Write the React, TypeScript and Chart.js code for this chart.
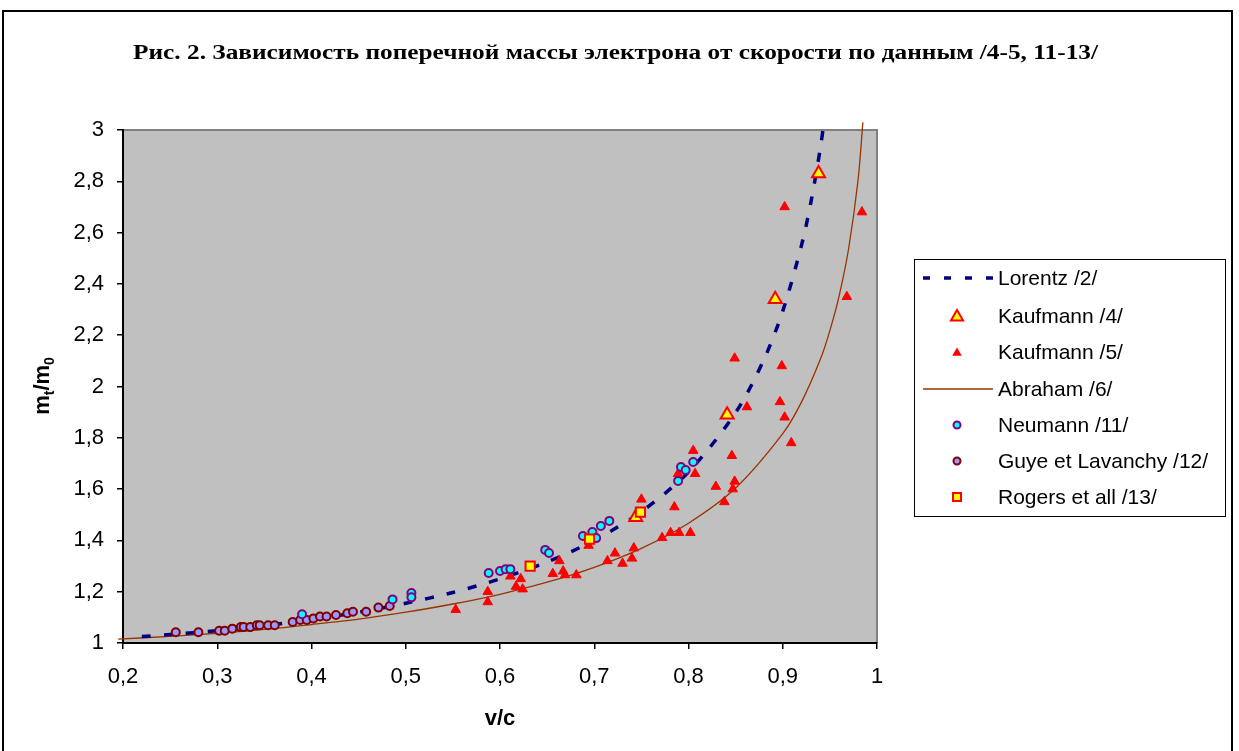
import React, { useEffect, useRef } from 'react';
import { Chart, registerables } from 'chart.js';

Chart.register(...registerables);

// ---------- DATA ----------
const TITLE = 'Рис. 2. Зависимость поперечной массы электрона от скорости по данным /4-5, 11-13/';
const X_TITLE = 'v/c';
const LEGEND_LABELS = [
  'Lorentz /2/',
  'Kaufmann /4/',
  'Kaufmann /5/',
  'Abraham /6/',
  'Neumann /11/',
  'Guye et Lavanchy /12/',
  'Rogers et all /13/',
];

const X_TICKS = [0.2, 0.3, 0.4, 0.5, 0.6, 0.7, 0.8, 0.9, 1.0];
const Y_TICKS = [1, 1.2, 1.4, 1.6, 1.8, 2, 2.2, 2.4, 2.6, 2.8, 3];

const lorentzV = [0.22, 0.25, 0.3, 0.35, 0.4, 0.45, 0.5, 0.55, 0.6, 0.65, 0.7, 0.75, 0.8, 0.85, 0.88, 0.9, 0.92, 0.93, 0.94, 0.943];
const lorentzM = [1.025, 1.033, 1.048, 1.068, 1.091, 1.12, 1.155, 1.197, 1.25, 1.316, 1.4, 1.512, 1.667, 1.898, 2.105, 2.294, 2.552, 2.721, 2.931, 3.01];

const abrahamV = [0.195, 0.25, 0.3, 0.35, 0.4, 0.45, 0.5, 0.55, 0.6, 0.65, 0.7, 0.75, 0.8, 0.85, 0.9, 0.92, 0.94, 0.95, 0.96, 0.97, 0.98, 0.985];
const abrahamM = [1.015, 1.026, 1.038, 1.053, 1.072, 1.093, 1.12, 1.152, 1.19, 1.237, 1.295, 1.369, 1.467, 1.604, 1.816, 1.94, 2.107, 2.218, 2.356, 2.54, 2.808, 3.03];

const kaufmann4V = [0.744, 0.841, 0.892, 0.938];
const kaufmann4M = [1.49, 1.89, 2.34, 2.83];

const kaufmann5V = [0.553, 0.587, 0.587, 0.611, 0.622, 0.617, 0.624, 0.656, 0.663, 0.667, 0.669, 0.681, 0.694, 0.714, 0.722, 0.73, 0.74, 0.742, 0.75, 0.772, 0.781, 0.79, 0.802, 0.785, 0.789, 0.807, 0.805, 0.829, 0.838, 0.847, 0.849, 0.846, 0.862, 0.849, 0.899, 0.897, 0.902, 0.909, 0.902, 0.968, 0.984];
const kaufmann5M = [1.13, 1.2, 1.16, 1.26, 1.25, 1.22, 1.21, 1.27, 1.32, 1.28, 1.265, 1.265, 1.38, 1.32, 1.35, 1.31, 1.33, 1.37, 1.56, 1.41, 1.43, 1.43, 1.43, 1.53, 1.66, 1.66, 1.75, 1.61, 1.55, 1.6, 1.63, 1.73, 1.92, 2.11, 2.08, 1.94, 1.88, 1.78, 2.7, 2.35, 2.68];

const neumannV = [0.39, 0.486, 0.506, 0.506, 0.588, 0.6, 0.606, 0.611, 0.648, 0.652, 0.688, 0.698, 0.702, 0.707, 0.716, 0.789, 0.792, 0.797, 0.805];
const neumannM = [1.112, 1.17, 1.195, 1.178, 1.273, 1.281, 1.288, 1.288, 1.363, 1.351, 1.417, 1.433, 1.409, 1.456, 1.476, 1.632, 1.686, 1.674, 1.706];

const guyeV = [0.256, 0.28, 0.302, 0.308, 0.316, 0.325, 0.328, 0.335, 0.342, 0.345, 0.354, 0.361, 0.38, 0.388, 0.395, 0.402, 0.409, 0.416, 0.426, 0.438, 0.444, 0.458, 0.471, 0.483];
const guyeM = [1.042, 1.042, 1.048, 1.048, 1.056, 1.062, 1.062, 1.062, 1.069, 1.069, 1.069, 1.069, 1.082, 1.09, 1.09, 1.096, 1.103, 1.103, 1.109, 1.116, 1.122, 1.122, 1.138, 1.144];

const rogersV = [0.632, 0.695, 0.749];
const rogersM = [1.3, 1.405, 1.51];

// ---------- helpers ----------
const pts = (xs: number[], ys: number[]) => xs.map((x, i) => ({ x, y: ys[i] }));
const fmt = (v: number) => String(Number(v.toFixed(1))).replace('.', ',');

const NAVY = '#000080';
const BROWN = '#993300';
const RED = '#FF0000';
const YELLOW = '#FFFF00';
const CYAN = '#00FFFF';
const PURPLE = '#800080';
const MAROON = '#800000';
const LAVENDER = '#9999FF';
const SANS = '"Liberation Sans", Arial, sans-serif';

function tri(ctx: CanvasRenderingContext2D, x: number, y: number, r: number) {
  ctx.beginPath();
  for (let k = 0; k < 3; k++) {
    const a = (k * 2 * Math.PI) / 3;
    const px = x + Math.sin(a) * r;
    const py = y - Math.cos(a) * r;
    if (k === 0) ctx.moveTo(px, py);
    else ctx.lineTo(px, py);
  }
  ctx.closePath();
}

const decor = {
  id: 'decor',
  beforeDraw(chart: any) {
    const { ctx, chartArea: a } = chart;
    ctx.save();
    ctx.fillStyle = '#FFFFFF';
    ctx.fillRect(0, 0, chart.width, chart.height);
    ctx.fillStyle = '#C0C0C0';
    ctx.fillRect(a.left, a.top, a.right - a.left, a.bottom - a.top);
    ctx.strokeStyle = '#808080';
    ctx.lineWidth = 2;
    ctx.beginPath();
    ctx.moveTo(a.left, a.top);
    ctx.lineTo(a.right, a.top);
    ctx.lineTo(a.right, a.bottom);
    ctx.stroke();
    ctx.restore();
  },
  afterDraw(chart: any) {
    const { ctx, chartArea: a } = chart;
    ctx.save();
    // outer frame
    ctx.strokeStyle = '#000000';
    ctx.lineWidth = 2;
    ctx.strokeRect(3, 11, 1229, 760);

    // title
    ctx.fillStyle = '#000000';
    ctx.font = 'bold 21px "Liberation Serif", "DejaVu Serif", serif';
    ctx.textBaseline = 'alphabetic';
    ctx.textAlign = 'center';
    const tw = ctx.measureText(TITLE).width;
    const target = 965;
    let sx = target / tw;
    if (sx > 1.35) sx = 1.35;
    if (sx < 0.8) sx = 0.8;
    ctx.save();
    ctx.translate(615.5, 59);
    ctx.scale(sx, 1);
    ctx.fillText(TITLE, 0, 0);
    ctx.restore();

    // x axis title
    ctx.font = 'bold 22px ' + SANS;
    ctx.textAlign = 'center';
    ctx.textBaseline = 'alphabetic';
    ctx.fillText(X_TITLE, (a.left + a.right) / 2, 725);

    // y axis title: m_t / m_0
    const parts: [string, number, number][] = [
      ['m', 22, 0],
      ['t', 14, 5],
      ['/m', 22, 0],
      ['0', 14, 5],
    ];
    let total = 0;
    for (const [s, sz] of parts) {
      ctx.font = 'bold ' + sz + 'px ' + SANS;
      total += ctx.measureText(s).width;
    }
    ctx.save();
    ctx.translate(49, 386 + total / 2);
    ctx.rotate(-Math.PI / 2);
    ctx.textAlign = 'left';
    let cx = 0;
    for (const [s, sz, dy] of parts) {
      ctx.font = 'bold ' + sz + 'px ' + SANS;
      ctx.fillText(s, cx, dy);
      cx += ctx.measureText(s).width;
    }
    ctx.restore();

    // legend
    ctx.strokeStyle = '#000000';
    ctx.lineWidth = 1;
    ctx.strokeRect(914.5, 259.5, 311, 257);
    const rows = [278, 316, 352, 389, 425, 461, 497];
    const sxc = 957;
    ctx.font = '21px ' + SANS;
    ctx.textAlign = 'left';
    ctx.textBaseline = 'middle';
    LEGEND_LABELS.forEach((lab, i) => {
      ctx.fillStyle = '#000000';
      ctx.fillText(lab, 998, rows[i] + 1);
    });
    // symbols
    ctx.save();
    ctx.strokeStyle = NAVY;
    ctx.lineWidth = 3.5;
    ctx.setLineDash([7, 14]);
    ctx.beginPath();
    ctx.moveTo(923, rows[0]);
    ctx.lineTo(994, rows[0]);
    ctx.stroke();
    ctx.restore();

    tri(ctx, sxc, rows[1] + 1, 7);
    ctx.fillStyle = YELLOW;
    ctx.fill();
    ctx.strokeStyle = RED;
    ctx.lineWidth = 2;
    ctx.stroke();

    tri(ctx, sxc, rows[2] + 1, 5.5);
    ctx.fillStyle = RED;
    ctx.fill();

    ctx.strokeStyle = BROWN;
    ctx.lineWidth = 1.3;
    ctx.beginPath();
    ctx.moveTo(923, rows[3]);
    ctx.lineTo(993, rows[3]);
    ctx.stroke();

    ctx.beginPath();
    ctx.arc(sxc, rows[4], 3.5, 0, Math.PI * 2);
    ctx.fillStyle = CYAN;
    ctx.fill();
    ctx.strokeStyle = PURPLE;
    ctx.lineWidth = 2;
    ctx.stroke();

    ctx.beginPath();
    ctx.arc(sxc, rows[5], 3.5, 0, Math.PI * 2);
    ctx.fillStyle = LAVENDER;
    ctx.fill();
    ctx.strokeStyle = MAROON;
    ctx.lineWidth = 2;
    ctx.stroke();

    ctx.fillStyle = YELLOW;
    ctx.fillRect(sxc - 4, rows[6] - 4, 8, 8);
    ctx.strokeStyle = RED;
    ctx.lineWidth = 2;
    ctx.strokeRect(sxc - 4, rows[6] - 4, 8, 8);

    ctx.restore();
  },
};

export default function App() {
  const ref = useRef<HTMLCanvasElement>(null);

  useEffect(() => {
    const canvas = ref.current;
    if (!canvas) return;
    const chart = new Chart(canvas, {
      type: 'scatter',
      data: {
        datasets: [
          {
            label: LEGEND_LABELS[6],
            data: pts(rogersV, rogersM),
            pointStyle: 'rect',
            pointRadius: 6.5,
            pointHoverRadius: 6.5,
            backgroundColor: YELLOW,
            borderColor: RED,
            borderWidth: 2,
            order: 0,
          },
          {
            label: LEGEND_LABELS[4],
            data: pts(neumannV, neumannM),
            pointStyle: 'circle',
            pointRadius: 4,
            pointHoverRadius: 4,
            backgroundColor: CYAN,
            borderColor: PURPLE,
            borderWidth: 2,
            order: 1,
          },
          {
            label: LEGEND_LABELS[5],
            data: pts(guyeV, guyeM),
            pointStyle: 'circle',
            pointRadius: 4,
            pointHoverRadius: 4,
            backgroundColor: LAVENDER,
            borderColor: MAROON,
            borderWidth: 2,
            order: 2,
          },
          {
            label: LEGEND_LABELS[1],
            data: pts(kaufmann4V, kaufmann4M),
            pointStyle: 'triangle',
            pointRadius: 7.5,
            pointHoverRadius: 7.5,
            backgroundColor: YELLOW,
            borderColor: RED,
            borderWidth: 2,
            order: 3,
          },
          {
            label: LEGEND_LABELS[2],
            data: pts(kaufmann5V, kaufmann5M),
            pointStyle: 'triangle',
            pointRadius: 5.5,
            pointHoverRadius: 5.5,
            backgroundColor: RED,
            borderColor: RED,
            borderWidth: 1,
            order: 4,
          },
          {
            label: LEGEND_LABELS[0],
            data: pts(lorentzV, lorentzM),
            showLine: true,
            pointRadius: 0,
            pointHoverRadius: 0,
            borderColor: NAVY,
            backgroundColor: NAVY,
            borderWidth: 3.5,
            borderDash: [9, 13],
            borderCapStyle: 'butt',
            fill: false,
            tension: 0.3,
            clip: false,
            order: 5,
          } as any,
          {
            label: LEGEND_LABELS[3],
            data: pts(abrahamV, abrahamM),
            showLine: true,
            pointRadius: 0,
            pointHoverRadius: 0,
            borderColor: BROWN,
            backgroundColor: BROWN,
            borderWidth: 1.3,
            fill: false,
            tension: 0.3,
            clip: false,
            order: 6,
          } as any,
        ],
      },
      options: {
        animation: false,
        responsive: false,
        maintainAspectRatio: false,
        events: [],
        layout: { padding: { left: 0, top: 130, right: 362, bottom: 0 } },
        plugins: {
          legend: { display: false },
          title: { display: false },
          tooltip: { enabled: false },
        },
        scales: {
          x: {
            type: 'linear',
            min: 0.2,
            max: 1,
            afterFit: (s: any) => {
              s.height = 108;
            },
            afterBuildTicks: (s: any) => {
              s.ticks = X_TICKS.map((value) => ({ value }));
            },
            ticks: {
              callback: (v: any) => fmt(Number(v)),
              font: { family: SANS, size: 22 },
              color: '#000000',
              padding: 15,
              maxRotation: 0,
              autoSkip: false,
            },
            grid: { drawOnChartArea: false, drawTicks: true, tickLength: 6, color: '#000000', lineWidth: 1.5 },
            border: { display: true, color: '#000000', width: 2 },
          },
          y: {
            type: 'linear',
            min: 1,
            max: 3,
            afterFit: (s: any) => {
              s.width = 123;
            },
            afterBuildTicks: (s: any) => {
              s.ticks = Y_TICKS.map((value) => ({ value }));
            },
            ticks: {
              callback: (v: any) => fmt(Number(v)),
              font: { family: SANS, size: 22 },
              color: '#000000',
              padding: 13,
              autoSkip: false,
            },
            grid: { drawOnChartArea: false, drawTicks: true, tickLength: 6, color: '#000000', lineWidth: 1.5 },
            border: { display: true, color: '#000000', width: 2 },
          },
        },
      },
      plugins: [decor],
    } as any);
    return () => chart.destroy();
  }, []);

  return (
    <div style={{ position: 'fixed', left: 0, top: 0, width: 1239, height: 751, background: '#ffffff' }}>
      <canvas ref={ref} width={1239} height={751} style={{ display: 'block', width: 1239, height: 751 }} />
    </div>
  );
}
